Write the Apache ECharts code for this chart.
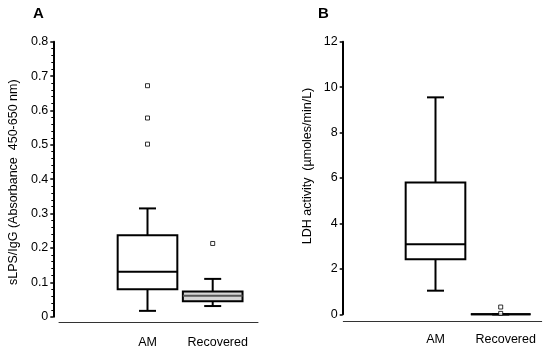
<!DOCTYPE html>
<html><head><meta charset="utf-8">
<script src="https://cdn.jsdelivr.net/npm/echarts@6/dist/echarts.min.js"></script>
<style>html,body{margin:0;padding:0;background:#fff}#c{width:550px;height:355px}</style>
</head><body><div id="c"></div>
<script>
// ---- data ----
const categories = ['AM', 'Recovered'];
// [low whisker, Q1, median, Q3, high whisker]
const boxA = [[0.017, 0.080, 0.131, 0.237, 0.315], [0.031, 0.045, 0.061, 0.073, 0.110]];
const outliersA = [['AM', 0.672], ['AM', 0.578], ['AM', 0.502], ['Recovered', 0.213]];
const boxB = [[1.04, 2.42, 3.08, 5.80, 9.55], [0, 0, 0, 0, 0]];
const outliersB = [['Recovered', 0.32], ['Recovered', 0.04]];
const ticksA = {min: 0, max: 0.8, interval: 0.1};
const ticksB = {min: 0, max: 12, interval: 2};
const nameA = 'sLPS/IgG (Absorbance  450-650 nm)';
const nameB = 'LDH activity  (µmoles/min/L)';

const FONT = '"Liberation Sans", Arial, sans-serif';
const fillsA = ['#ffffff', '#d4d4d4'];
const medA = ['#000', '#555'];
const fillsB = ['#ffffff', '#ffffff'];
const medB = ['#000', '#000'];

function boxSeries(box, xi, yi, fills, meds) {
  return {
    type: 'custom', xAxisIndex: xi, yAxisIndex: yi,
    encode: {x: 0, y: [1, 2, 3, 4, 5]},
    data: box.map((b, i) => [i].concat(b)),
    renderItem: function (params, api) {
      const i = api.value(0);
      const band = api.size([1, 0])[0];
      const bw = band * 0.915, cw = 17;
      const lo = api.coord([i, api.value(1)]);
      const q1 = api.coord([i, api.value(2)]);
      const md = api.coord([i, api.value(3)]);
      const q3 = api.coord([i, api.value(4)]);
      const hi = api.coord([i, api.value(5)]);
      const cx = lo[0];
      const ls = {stroke: '#000', lineWidth: 2};
      return {type: 'group', children: [
        {type: 'line', shape: {x1: cx, y1: hi[1], x2: cx, y2: q3[1]}, style: ls},
        {type: 'line', shape: {x1: cx, y1: q1[1], x2: cx, y2: lo[1]}, style: ls},
        {type: 'line', shape: {x1: cx - cw / 2, y1: hi[1], x2: cx + cw / 2, y2: hi[1]}, style: ls},
        {type: 'line', shape: {x1: cx - cw / 2, y1: lo[1], x2: cx + cw / 2, y2: lo[1]}, style: ls},
        {type: 'rect', shape: {x: cx - bw / 2, y: q3[1], width: bw, height: q1[1] - q3[1]},
          style: {fill: fills[i], stroke: '#000', lineWidth: 2}},
        {type: 'line', shape: {x1: cx - bw / 2, y1: md[1], x2: cx + bw / 2, y2: md[1]},
          style: {stroke: meds[i], lineWidth: 2}}
      ]};
    }
  };
}
function outSeries(data, xi, yi) {
  return {type: 'scatter', xAxisIndex: xi, yAxisIndex: yi, data: data, symbol: 'rect', symbolSize: 4,
    itemStyle: {color: '#fff', borderColor: '#000', borderWidth: 1}, z: 5};
}
const catAxis = (gi) => ({
  type: 'category', gridIndex: gi, data: categories, boundaryGap: true,
  axisLine: {show: false}, axisTick: {show: false},
  axisLabel: {interval: 0, hideOverlap: false, margin: 19, color: '#000', fontFamily: FONT, fontSize: 12.5,
    formatter: v => v === 'Recovered' ? '{r|Recovered}' : v,
    rich: {r: {padding: [0, 0, 0, 10], color: '#000', fontFamily: FONT, fontSize: 12.5}}}
});
const baseX = (gi) => ({type: 'value', gridIndex: gi, min: 0, max: 1,
  axisLine: {show: true, lineStyle: {color: '#333', width: 1}}, axisTick: {show: false},
  axisLabel: {show: false}, splitLine: {show: false}});
const hiddenY = (gi) => ({type: 'value', gridIndex: gi, show: false, min: 0, max: 1});
function valAxis(gi, t, name, off, gap, pad, minor) {
  return {
    type: 'value', gridIndex: gi, min: t.min, max: t.max, interval: t.interval, offset: off,
    name: name, nameLocation: 'middle', nameGap: gap, nameRotate: 90,
    nameTextStyle: {color: '#000', fontFamily: FONT, fontSize: 12.5, padding: pad},
    axisLine: {show: true, lineStyle: {color: '#000', width: 2}},
    axisTick: {show: true, length: 3, lineStyle: {color: '#000', width: 1.5}},
    minorTick: {show: minor, splitNumber: 5, length: 2, lineStyle: {color: '#000', width: 1}},
    axisLabel: {margin: 5, color: '#000', fontFamily: FONT, fontSize: 12.5,
      formatter: v => String(Math.round(v * 10) / 10)},
    splitLine: {show: false}
  };
}

const chart = echarts.init(document.getElementById('c'), null, {renderer: 'canvas'});
chart.setOption({
  animation: false,
  backgroundColor: '#fff',
  grid: [
    {left: 114.9, width: 130.4, top: 41.7, bottom: 38.3},
    {left: 59, right: 292, top: 41.7, bottom: 33},
    {left: 402.9, width: 130.4, top: 41.7, bottom: 40.7},
    {left: 343.3, right: 8.3, top: 41.7, bottom: 33.3}
  ],
  xAxis: [catAxis(0), baseX(1), catAxis(2), baseX(3)],
  yAxis: [
    valAxis(0, ticksA, nameA, 61.6, 33, [0, 6, 0, 0], true), hiddenY(1),
    valAxis(2, ticksB, nameB, 60.2, 29, [0, 0, 0, 24], false), hiddenY(3)
  ],
  graphic: [
    {type: 'text', left: 33, top: 6, style: {text: 'A', font: 'bold 15px ' + FONT, fill: '#000'}},
    {type: 'text', left: 318, top: 6, style: {text: 'B', font: 'bold 15px ' + FONT, fill: '#000'}}
  ],
  series: [
    boxSeries(boxA, 0, 0, fillsA, medA), outSeries(outliersA, 0, 0),
    boxSeries(boxB, 2, 2, fillsB, medB), outSeries(outliersB, 2, 2)
  ]
});
</script></body></html>
